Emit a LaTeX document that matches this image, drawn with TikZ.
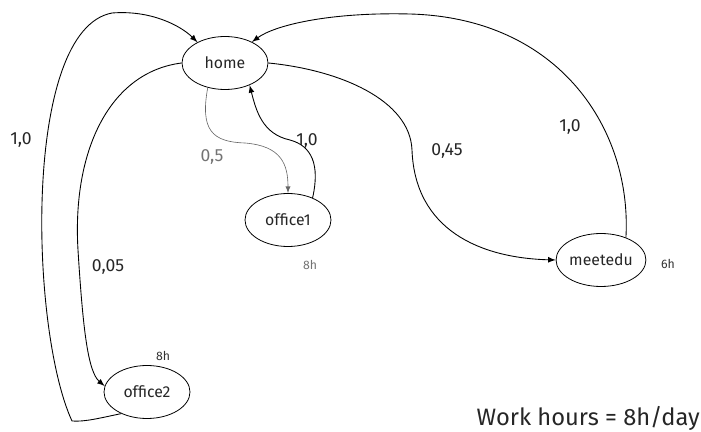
\documentclass[tikz,border=0pt]{standalone}
\usepackage{fontspec}
\setmainfont{Fira Sans}
\usetikzlibrary{arrows}
\usetikzlibrary{shapes.geometric}

\begin{document}
\begin{tikzpicture}[x=0.02cm,y=-0.02cm,
    place/.style={ellipse,draw,line width=0.45pt,minimum width=1.72cm,minimum height=1.06cm,inner sep=0pt,font=\fontsize{9}{10}\selectfont,text=black!85},
    prob/.style={font=\fontsize{10}{12}\selectfont,text=black!85},
    hours/.style={font=\fontsize{7}{8}\selectfont,text=black!80},
    link/.style={line width=0.5pt,arrows={-latex}}]
        % Fix the page size
        \useasboundingbox (0,0) rectangle (701,432);
        % Places
        \node[place] (home) at (225,63) {home};
        \node[place] (office1) at (288,220) {office1};
        \node[place] (meetedu) at (601,260) {meetedu};
        \node[place] (office2) at (147,392) {office2};
        % Hours spent at each place
        \node[hours,text=black!55] (h1) at (310,265) {8h};
        \node[hours] (h2) at (163,356) {8h};
        \node[hours] (h3) at (668,264) {6h};
        % Transitions (use arrows command to insert arrow of choice)
        \draw[link] (office2.220) .. controls (100,418) and (85,422) .. (72,421) .. controls (30,330) and (22,30) .. (112,13) .. controls (150,10) and (180,25) .. (home.143);
        \draw[link] (home.west) .. controls (110,72) and (72,150) .. (78,250) .. controls (83,330) and (88,372) .. (office2.172);
        \draw[link,black!60,line width=0.35pt] (home.235) .. controls (200,130) and (212,142) .. (245,143) .. controls (282,146) and (288,165) .. (office1.north);
        \draw[link] (office1.42) .. controls (320,165) and (312,146) .. (290,140) .. controls (262,134) and (256,110) .. (home.318);
        \draw[link] (home.east) .. controls (340,70) and (410,100) .. (412,150) .. controls (415,230) and (480,258) .. (meetedu.west);
        \draw[link] (meetedu.42) .. controls (632,130) and (560,18) .. (410,14) .. controls (330,12) and (275,25) .. (home.38);
        % Probabilities
        \node[prob] (p1) at (21,140) {1,0};
        \node[prob] (p2) at (108,267) {0,05};
        \node[prob,text=black!55] (p3) at (212,157) {0,5};
        \node[prob] (p4) at (307,141) {1,0};
        \node[prob] (p5) at (447,151) {0,45};
        \node[prob] (p6) at (570,127) {1,0};
        % Work hours
        \node[font=\fontsize{13.5}{15}\selectfont,anchor=east,text=black!85] (work) at (706,418) {Work hours = 8h/day};
      \end{tikzpicture}
\end{document}
